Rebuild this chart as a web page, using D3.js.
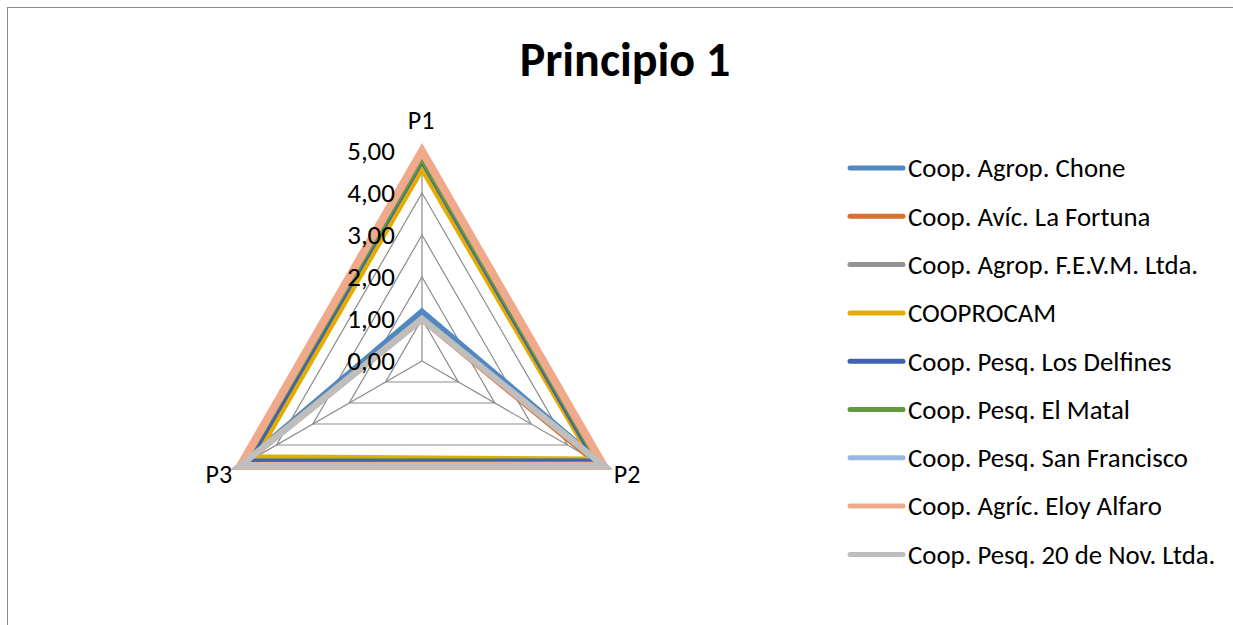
<!DOCTYPE html>
<html>
<head>
<meta charset="utf-8">
<script src="https://cdn.jsdelivr.net/npm/d3@7/dist/d3.min.js"></script>
<style>
  html, body { margin: 0; padding: 0; background: #ffffff; }
  svg { display: block; }
  text { font-family: Calibri, Carlito, Lato, sans-serif; fill: #000; }
</style>
</head>
<body>
<svg id="chart" width="1233" height="625"></svg>
<script>
// ---- data ----
const axes = ["P1", "P2", "P3"];
const seriesNames = [
  "Coop. Agrop. Chone",
  "Coop. Avíc. La Fortuna",
  "Coop. Agrop. F.E.V.M. Ltda.",
  "COOPROCAM",
  "Coop. Pesq. Los Delfines",
  "Coop. Pesq. El Matal",
  "Coop. Pesq. San Francisco",
  "Coop. Agríc. Eloy Alfaro",
  "Coop. Pesq. 20 de Nov. Ltda."
];
const valuesP1 = [1.17, 1.00, 5.00, 4.60, 4.80, 4.85, 5.00, 5.00, 1.00];
const valuesP2 = [5.00, 4.75, 5.00, 4.70, 4.80, 4.90, 5.00, 5.00, 5.00];
const valuesP3 = [5.00, 5.00, 5.00, 4.60, 4.80, 4.95, 5.00, 5.00, 5.00];
const seriesColors = ["#4F88C2", "#DA7030", "#939393", "#E5AC00", "#3F63AE", "#62993E", "#97B9E0", "#F0A98A", "#BEBEBE"];
const seriesWidths = [6.5, 6.5, 6.5, 6.5, 6.5, 6.5, 6.5, 8, 6.5];
const tickValues = [0, 1, 2, 3, 4, 5];
const chartTitle = "Principio 1";

// ---- layout ----
const svg = d3.select("#chart");
const W = 1233, H = 625;
const cx = 422, cy = 361, R = 210;

// outer chart border (extends beyond the visible frame)
svg.append("rect")
  .attr("x", 7.5).attr("y", 7.5)
  .attr("width", W + 20).attr("height", H + 20)
  .attr("fill", "#fff").attr("stroke", "#8a8a8a").attr("stroke-width", 1);

svg.append("text")
  .attr("x", 625).attr("y", 76)
  .attr("text-anchor", "middle")
  .attr("font-size", 48).attr("font-weight", "bold")
  .text(chartTitle);

const r = d3.scaleLinear().domain([0, 5]).range([0, R]);
const angle = d3.scalePoint().domain(axes).range([0, 2 * Math.PI * 2 / 3]);

const g = svg.append("g").attr("transform", `translate(${cx},${cy})`);

const radial = d3.lineRadial()
  .angle(d => angle(d.axis))
  .radius(d => r(d.value))
  .curve(d3.curveLinearClosed);

// gridlines (rings)
tickValues.filter(t => t > 0).forEach(t => {
  g.append("path")
    .attr("d", radial(axes.map(a => ({ axis: a, value: t }))))
    .attr("fill", "none").attr("stroke", "#8c8c8c").attr("stroke-width", 1.2);
});
// spokes
axes.forEach(a => {
  const ang = angle(a);
  g.append("line")
    .attr("x1", 0).attr("y1", 0)
    .attr("x2", r(5) * Math.sin(ang)).attr("y2", -r(5) * Math.cos(ang))
    .attr("stroke", "#8c8c8c").attr("stroke-width", 1.2);
});

// series
const allVals = [valuesP1, valuesP2, valuesP3];
seriesNames.forEach((name, i) => {
  const pts = axes.map((a, k) => ({ axis: a, value: allVals[k][i] }));
  g.append("path")
    .attr("d", radial(pts))
    .attr("fill", "none")
    .attr("stroke", seriesColors[i])
    .attr("stroke-width", seriesWidths[i])
    .attr("stroke-linejoin", "miter");
});

// tick labels
const fmt = d3.formatLocale({ decimal: ",", thousands: ".", grouping: [3], currency: ["", ""] }).format(".2f");
tickValues.forEach(t => {
  g.append("text")
    .attr("x", -27).attr("y", -r(t))
    .attr("dy", "0.35em")
    .attr("text-anchor", "end")
    .attr("font-size", 27)
    .text(fmt(t));
});

// axis labels
axes.forEach(a => {
  const ang = angle(a);
  const x = r(5) * Math.sin(ang), y = -r(5) * Math.cos(ang);
  let tx = x, ty = y, anchor = "middle";
  if (a === "P1") { ty = y - 31; tx = x - 1; }
  else if (ang < Math.PI) { tx = x + 10; ty = y + 8; anchor = "start"; }
  else { tx = x - 8; ty = y + 8; anchor = "end"; }
  g.append("text")
    .attr("x", tx).attr("y", ty).attr("dy", "0.35em")
    .attr("text-anchor", anchor)
    .attr("font-size", 26)
    .text(a);
});

// legend
const legend = svg.append("g");
seriesNames.forEach((name, i) => {
  const y = 168 + i * 48.3;
  legend.append("line")
    .attr("x1", 850).attr("x2", 903)
    .attr("y1", y).attr("y2", y)
    .attr("stroke", seriesColors[i]).attr("stroke-width", 5)
    .attr("stroke-linecap", "round");
  legend.append("text")
    .attr("x", 908).attr("y", y).attr("dy", "0.35em")
    .attr("font-size", 26.8)
    .text(name);
});
</script>
</body>
</html>
